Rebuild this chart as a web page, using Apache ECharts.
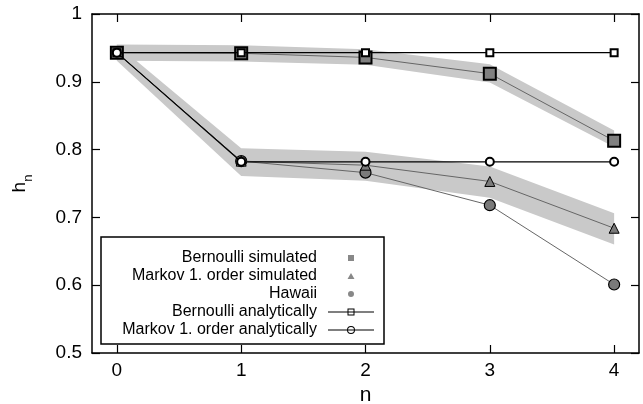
<!DOCTYPE html>
<html>
<head>
<meta charset="utf-8">
<script src="https://cdn.jsdelivr.net/npm/echarts@6/dist/echarts.min.js"></script>
<style>
html,body{margin:0;padding:0;background:#fff;}
#c{width:643px;height:404px;}
</style>
</head>
<body>
<div id="c"></div>
<script>
const nValues = [0, 1, 2, 3, 4];
const xTicks = [0, 1, 2, 3, 4];
const yTicks = [0.5, 0.6, 0.7, 0.8, 0.9, 1.0];
const bernoulliSimulated = [0.943, 0.942, 0.936, 0.912, 0.813];
const markovSimulated = [0.943, 0.783, 0.777, 0.753, 0.684];
const hawaii = [0.943, 0.783, 0.766, 0.718, 0.601];
const bernoulliAnalytic = [0.943, 0.943, 0.943, 0.943, 0.943];
const markovAnalytic = [0.943, 0.782, 0.782, 0.782, 0.782];
const bernoulliBandLow = [0.931, 0.930, 0.925, 0.899, 0.804];
const bernoulliBandHigh = [0.955, 0.954, 0.948, 0.926, 0.828];
const markovBandLow = [0.931, 0.761, 0.754, 0.729, 0.660];
const markovBandHigh = [0.955, 0.802, 0.797, 0.775, 0.706];

const FONT = 'Liberation Sans, Arial, sans-serif';
const pts = arr => nValues.map((n, i) => [n, arr[i]]);
const bandColor = '#c9c9c9';

// legend icon shapes (46 x 10 box)
const BOX = 'M0,0 L0.01,0.01 L0,0.01 Z M46,10 L45.99,9.99 L46,9.99 Z ';
const LINE = 'M0,4.5 H46 V5.5 H0 Z ';
const iconSimSquare = 'path://' + BOX + 'M20,2 H26 V8 H20 Z';
const iconSimTri = 'path://' + BOX + 'M23,2 L26.5,8 L19.5,8 Z';
const iconSimCircle = 'path://' + BOX + 'M20,5 A3,3 0 1,1 26,5 A3,3 0 1,1 20,5 Z';
const iconAnaSquare = 'path://' + BOX + LINE + 'M19.5,1.5 H26.5 V8.5 H19.5 Z M20.5,2.5 V7.5 H25.5 V2.5 Z';
const iconAnaCircle = 'path://' + BOX + LINE + 'M19,5 A4,4 0 1,1 27,5 A4,4 0 1,1 19,5 Z M20,5 A3,3 0 1,0 26,5 A3,3 0 1,0 20,5 Z';

function bandSeries(lo, hi) {
  return {
    type: 'custom', silent: true, z: 1,
    xAxisIndex: 0, yAxisIndex: 0,
    data: nValues.map((n, i) => [n, lo[i], hi[i]]),
    encode: { x: 0, y: [1, 2] },
    renderItem: function (params, api) {
      if (params.dataIndexInside !== 0) return null;
      const len = params.dataInsideLength;
      const upper = [], lower = [];
      for (let i = 0; i < len; i++) {
        upper.push(api.coord([api.value(0, i), api.value(2, i)]));
        lower.push(api.coord([api.value(0, i), api.value(1, i)]));
      }
      return {
        type: 'polygon',
        shape: { points: upper.concat(lower.reverse()) },
        style: { fill: bandColor, stroke: null }
      };
    }
  };
}

const chart = echarts.init(document.getElementById('c'), null, { renderer: 'canvas' });
const axisCommon = {
  axisLine: { show: true, onZero: false, lineStyle: { color: '#000', width: 1.5 } },
  splitLine: { show: false }
};
chart.setOption({
  animation: false,
  backgroundColor: '#fff',
  grid: { left: 92, right: 4, top: 14, bottom: 51, containLabel: false, outerBoundsMode: 'none' },
  xAxis: [
    Object.assign({}, axisCommon, {
      type: 'value', min: -0.2, max: 4.2, position: 'bottom',
      axisTick: { inside: true, length: 8, customValues: xTicks, lineStyle: { color: '#000', width: 1.2 } },
      axisLabel: { customValues: xTicks, margin: 8, fontSize: 19, color: '#000', fontFamily: FONT },
      name: 'n', nameLocation: 'middle', nameGap: 31,
      nameTextStyle: { fontSize: 21, color: '#000', fontFamily: FONT }
    }),
    Object.assign({}, axisCommon, {
      type: 'value', min: -0.2, max: 4.2, position: 'top',
      axisTick: { inside: true, length: 8, customValues: xTicks, lineStyle: { color: '#000', width: 1.2 } },
      axisLabel: { show: false, customValues: xTicks }
    })
  ],
  yAxis: [
    Object.assign({}, axisCommon, {
      type: 'value', min: 0.5, max: 1, position: 'left',
      axisTick: { inside: true, length: 8, customValues: yTicks, lineStyle: { color: '#000', width: 1.2 } },
      axisLabel: { customValues: yTicks, margin: 10, fontSize: 19, color: '#000', fontFamily: FONT,
        formatter: v => String(+(+v).toFixed(1)) },
      name: '{a|h}{b|n}', nameLocation: 'middle', nameGap: 62, nameRotate: 90,
      nameTextStyle: { color: '#000', fontFamily: FONT,
        rich: { a: { fontSize: 19, fontFamily: FONT, color: '#000', verticalAlign: 'top', lineHeight: 20 },
                b: { fontSize: 13, fontFamily: FONT, color: '#000', verticalAlign: 'top', lineHeight: 14, padding: [12, 0, 0, 0] } } }
    }),
    Object.assign({}, axisCommon, {
      type: 'value', min: 0.5, max: 1, position: 'right',
      axisTick: { inside: true, length: 8, customValues: yTicks, lineStyle: { color: '#000', width: 1.2 } },
      axisLabel: { show: false, customValues: yTicks }
    })
  ],
  graphic: [{
    type: 'rect', z: 50, shape: { x: 101, y: 237, width: 283, height: 107 },
    style: { fill: '#fff', stroke: '#000', lineWidth: 1.5 }
  }],
  legend: {
    z: 60, orient: 'vertical', align: 'right', right: 269, top: 249,
    itemWidth: 46, itemHeight: 10, itemGap: 0, padding: 0, symbolKeepAspect: true,
    textStyle: { fontSize: 16, lineHeight: 18, fontFamily: FONT, color: '#000', padding: [0, 6, 0, 0] },
    data: [
      { name: 'Bernoulli simulated', icon: iconSimSquare, itemStyle: { color: '#888', borderWidth: 0 } },
      { name: 'Markov 1. order simulated', icon: iconSimTri, itemStyle: { color: '#888', borderWidth: 0 } },
      { name: 'Hawaii', icon: iconSimCircle, itemStyle: { color: '#888', borderWidth: 0 } },
      { name: 'Bernoulli analytically', icon: iconAnaSquare, itemStyle: { color: '#000', borderWidth: 0 } },
      { name: 'Markov 1. order analytically', icon: iconAnaCircle, itemStyle: { color: '#000', borderWidth: 0 } }
    ]
  },
  series: [
    bandSeries(bernoulliBandLow, bernoulliBandHigh),
    bandSeries(markovBandLow, markovBandHigh),
    { name: 'Hawaii', type: 'line', data: pts(hawaii), z: 3,
      lineStyle: { color: '#666', width: 1 }, symbol: 'circle', symbolSize: 11,
      itemStyle: { color: '#7a7a7a', borderColor: '#000', borderWidth: 1.2 } },
    { name: 'Markov 1. order simulated', type: 'line', data: pts(markovSimulated), z: 4,
      lineStyle: { color: '#666', width: 1 }, symbol: 'triangle', symbolSize: 10,
      itemStyle: { color: '#7a7a7a', borderColor: '#000', borderWidth: 1 } },
    { name: 'Bernoulli simulated', type: 'line', data: pts(bernoulliSimulated), z: 5,
      lineStyle: { color: '#666', width: 1 }, symbol: 'rect', symbolSize: 12,
      itemStyle: { color: '#808080', borderColor: '#000', borderWidth: 2 } },
    { name: 'Bernoulli analytically', type: 'line', data: pts(bernoulliAnalytic), z: 6,
      lineStyle: { color: '#000', width: 1.2 }, symbol: 'emptyRect', symbolSize: 7,
      itemStyle: { color: '#000', borderWidth: 1 } },
    { name: 'Markov 1. order analytically', type: 'line', data: pts(markovAnalytic), z: 7,
      lineStyle: { color: '#000', width: 1.2 }, symbol: 'emptyCircle', symbolSize: 8,
      itemStyle: { color: '#000', borderWidth: 1 } }
  ]
});
</script>
</body>
</html>
